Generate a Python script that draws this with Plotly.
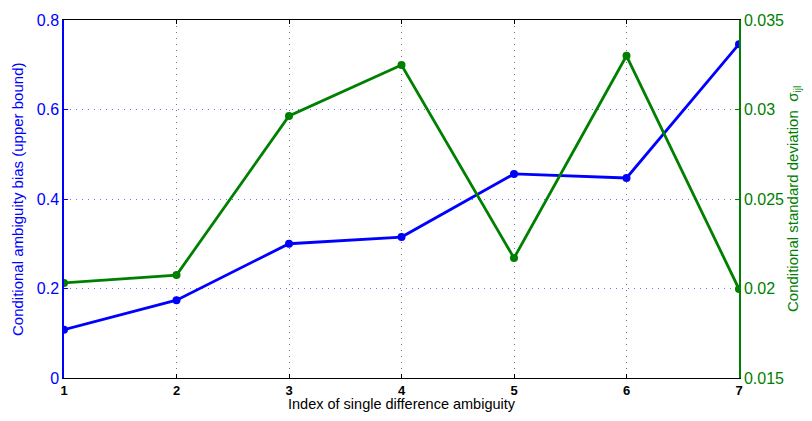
import plotly.graph_objects as go

index = [1, 2, 3, 4, 5, 6, 7]
bias_upper = [0.108, 0.174, 0.300, 0.315, 0.456, 0.447, 0.746]
cond_std = [0.02031, 0.02075, 0.02964, 0.03249, 0.0217, 0.0330, 0.01997]

left_ticks = [0, 0.2, 0.4, 0.6, 0.8]
right_ticks = [0.015, 0.02, 0.025, 0.03, 0.035]
right_ticklabels = ["0.015", "0.02", "0.025", "0.03", "0.035"]

FONT = "Liberation Sans, Arial, sans-serif"
BLUE = "#0000ff"
GREEN = "#008000"

# page body has an 8px margin; figure occupies x 8..804, y 8..413
fig = go.Figure()
fig.add_trace(go.Scatter(x=index, y=bias_upper, mode="lines+markers",
                         line=dict(color=BLUE, width=2.8),
                         marker=dict(color=BLUE, size=8), yaxis="y"))
fig.add_trace(go.Scatter(x=index, y=cond_std, mode="lines+markers",
                         line=dict(color=GREEN, width=2.8),
                         marker=dict(color=GREEN, size=8), yaxis="y2"))

fig.update_layout(
    width=796, height=405,
    margin=dict(l=56, r=65, t=12, b=35),
    paper_bgcolor="white", plot_bgcolor="white",
    showlegend=False,
    font=dict(family=FONT, size=15),
    xaxis=dict(
        range=[1, 7], tickvals=index, ticktext=[f"<b>{v}</b>" for v in index],
        tickfont=dict(color="black", size=13),
        showline=True, linecolor="black", linewidth=1, mirror="ticks",
        ticks="inside", ticklen=4, tickcolor="black",
        showgrid=True, gridcolor="#777777", griddash="1px,5px", gridwidth=1,
        zeroline=False, automargin=False,
    ),
    yaxis=dict(
        range=[0, 0.8], tickvals=left_ticks, ticktext=["0", "0.2", "0.4", "0.6", "0.8"],
        tickfont=dict(color=BLUE, size=16),
        showline=True, linecolor=BLUE, linewidth=1.5,
        ticks="inside", ticklen=4, tickcolor=BLUE,
        showgrid=True, gridcolor="#7070ff", griddash="1px,5px", gridwidth=1,
        zeroline=False, automargin=False,
    ),
    yaxis2=dict(
        range=[0.015, 0.035], tickvals=right_ticks, ticktext=right_ticklabels,
        overlaying="y", side="right",
        tickfont=dict(color=GREEN, size=16),
        showline=True, linecolor=GREEN, linewidth=1.5,
        ticks="inside", ticklen=4, tickcolor=GREEN,
        showgrid=False, zeroline=False, automargin=False,
    ),
    annotations=[
        dict(text="Index of single difference ambiguity", xref="paper", yref="paper",
             x=0.5, y=-0.0978, xanchor="center", yanchor="bottom", showarrow=False,
             font=dict(color="black", size=14.5), borderpad=0),
        dict(text="Conditional ambiguity bias (upper bound)", xref="paper", yref="paper",
             x=-0.0696, y=0.5, xanchor="center", yanchor="middle", showarrow=False,
             textangle=-90, font=dict(color=BLUE, size=15)),
        dict(text="Conditional standard deviation  σ<sub>ijl</sub>", xref="paper", yref="paper",
             x=1.080, y=0.5, xanchor="center", yanchor="middle", showarrow=False,
             textangle=-90, font=dict(color=GREEN, size=15)),
    ],
)

fig.write_html("out.html")
